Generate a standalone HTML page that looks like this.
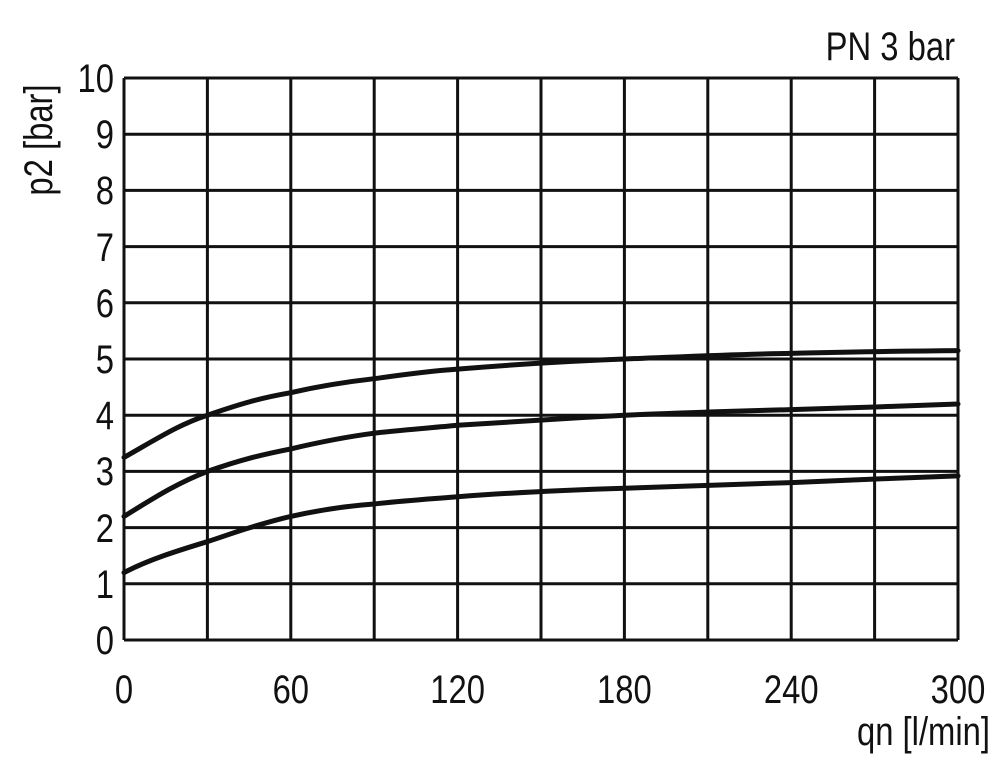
<!DOCTYPE html>
<html><head><meta charset="utf-8"><style>body{margin:0;background:#fff}svg{display:block}</style></head>
<body>
<svg width="1000" height="764" xmlns="http://www.w3.org/2000/svg" font-family="Liberation Sans, sans-serif" fill="#111">
<g stroke="#111" stroke-width="3">
<line x1="124" y1="78" x2="958" y2="78"/><line x1="124" y1="134.2" x2="958" y2="134.2"/><line x1="124" y1="190.4" x2="958" y2="190.4"/><line x1="124" y1="246.6" x2="958" y2="246.6"/><line x1="124" y1="302.8" x2="958" y2="302.8"/><line x1="124" y1="359" x2="958" y2="359"/><line x1="124" y1="415.2" x2="958" y2="415.2"/><line x1="124" y1="471.4" x2="958" y2="471.4"/><line x1="124" y1="527.6" x2="958" y2="527.6"/><line x1="124" y1="583.8" x2="958" y2="583.8"/><line x1="124" y1="640" x2="958" y2="640"/>
<line x1="124" y1="78" x2="124" y2="640"/><line x1="207.4" y1="78" x2="207.4" y2="640"/><line x1="290.8" y1="78" x2="290.8" y2="640"/><line x1="374.2" y1="78" x2="374.2" y2="640"/><line x1="457.6" y1="78" x2="457.6" y2="640"/><line x1="541" y1="78" x2="541" y2="640"/><line x1="624.4" y1="78" x2="624.4" y2="640"/><line x1="707.8" y1="78" x2="707.8" y2="640"/><line x1="791.2" y1="78" x2="791.2" y2="640"/><line x1="874.6" y1="78" x2="874.6" y2="640"/><line x1="958" y1="78" x2="958" y2="640"/>
</g>
<g stroke="#111" stroke-width="5" fill="none" stroke-linecap="round">
<path d="M124,457.4 C160,437 180,424 207.4,415.2 C240,404 260,398 290.8,392.7 C320,386 345,382 374.2,378.7 C400,375 430,371 457.6,369.1 C520,364 570,361 624.4,359 C700,356 740,354 791.2,353.4 C850,352 900,351 958,350.6"/>
<path d="M124,516.4 C160,494 180,482 207.4,471.4 C240,460 260,455 290.8,448.9 C320,442 345,437 374.2,433.2 C400,430 430,428 457.6,425.3 C520,421 570,418 624.4,415.2 C700,412 740,411 791.2,409.6 C850,408 900,406 958,404"/>
<path d="M124,572.6 C150,559 180,550 207.4,541.6 C225,536 235,532 250,527.6 C265,523 275,520 290.8,516.4 C320,510 345,506 374.2,504 C400,501 430,499 457.6,496.7 C520,492 570,490 624.4,488.3 C700,486 740,484 791.2,482.6 C850,480 900,478 958,475.9"/>
</g>
<g font-size="40" text-anchor="end">
<text transform="translate(114,654) scale(0.82,1)">0</text><text transform="translate(114,598) scale(0.82,1)">1</text><text transform="translate(114,542) scale(0.82,1)">2</text><text transform="translate(114,485) scale(0.82,1)">3</text><text transform="translate(114,429) scale(0.82,1)">4</text><text transform="translate(114,373) scale(0.82,1)">5</text><text transform="translate(114,317) scale(0.82,1)">6</text><text transform="translate(114,261) scale(0.82,1)">7</text><text transform="translate(114,204) scale(0.82,1)">8</text><text transform="translate(114,148) scale(0.82,1)">9</text><text transform="translate(114,92) scale(0.82,1)">10</text>
</g>
<g font-size="40" text-anchor="middle">
<text transform="translate(124,703) scale(0.82,1)">0</text><text transform="translate(290.8,703) scale(0.82,1)">60</text><text transform="translate(457.6,703) scale(0.82,1)">120</text><text transform="translate(624.4,703) scale(0.82,1)">180</text><text transform="translate(791.2,703) scale(0.82,1)">240</text><text transform="translate(958,703) scale(0.82,1)">300</text>
</g>
<text transform="translate(990,745) scale(0.82,1)" font-size="40" text-anchor="end">qn [l/min]</text>
<text transform="translate(955,60) scale(0.82,1)" font-size="40" text-anchor="end">PN 3 bar</text>
<text transform="translate(52,140) rotate(-90) scale(0.82,1)" font-size="40" text-anchor="middle">p2 [bar]</text>
</svg>
</body></html>
